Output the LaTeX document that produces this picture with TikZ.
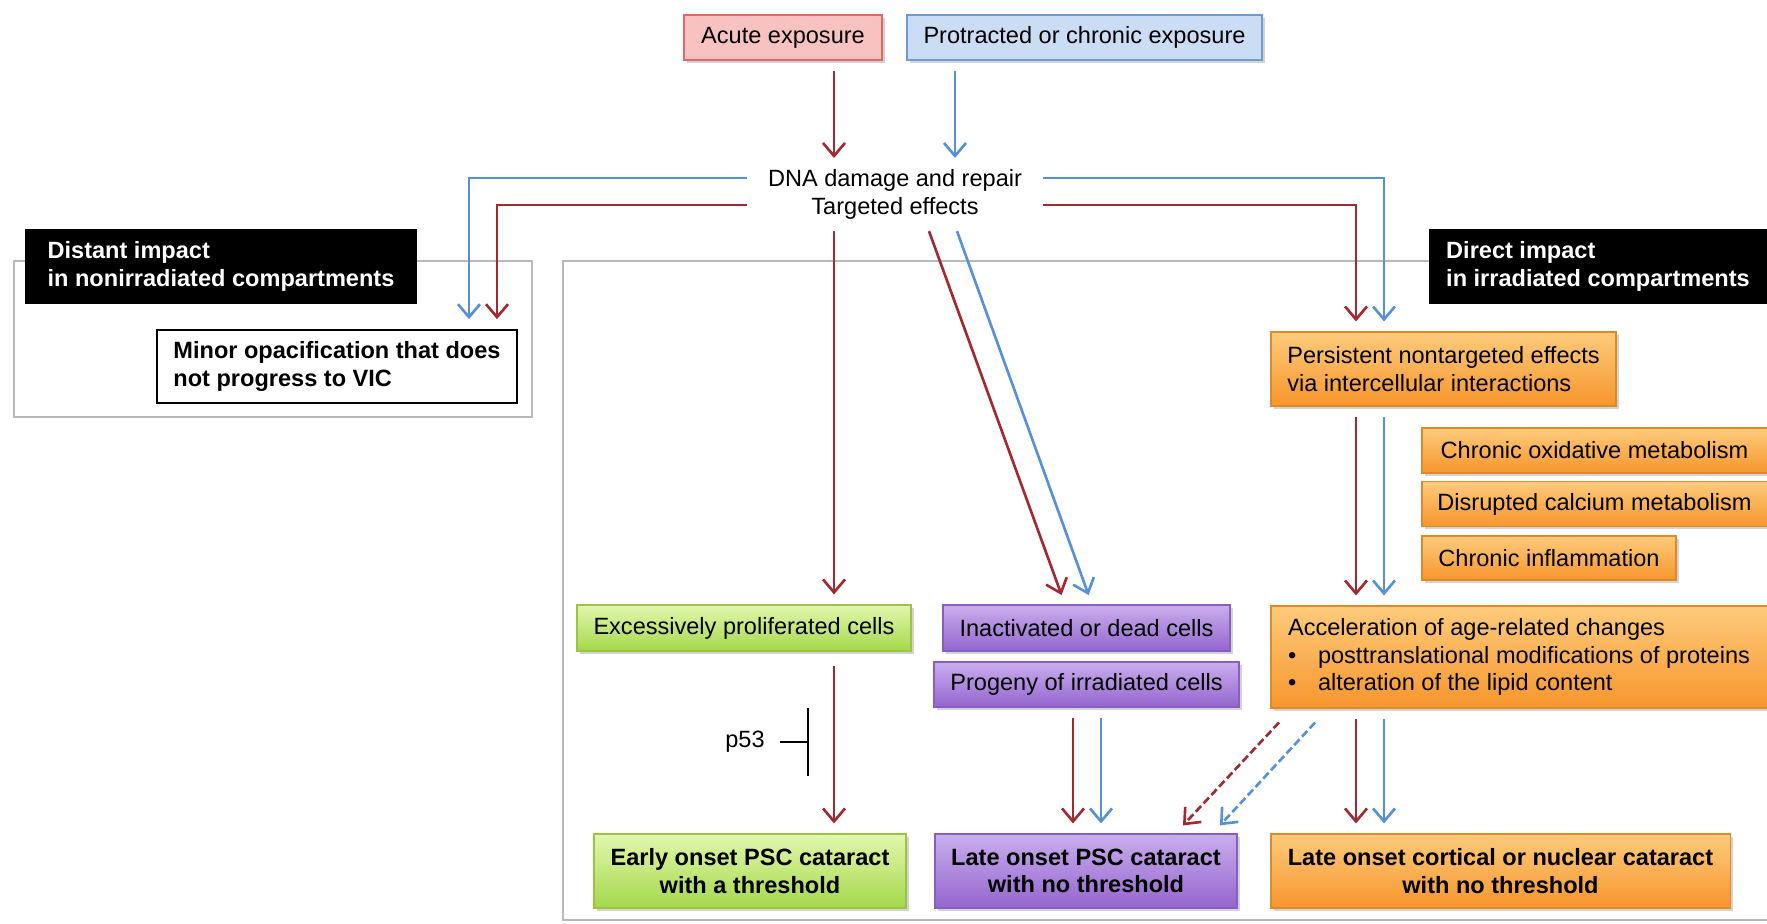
\documentclass[tikz,border=0pt]{standalone}
\usepackage{fontspec}
\setmainfont{Liberation Sans}
\usetikzlibrary{arrows.meta,shadows}

\definecolor{arrRed}{HTML}{A3282F}
\definecolor{arrBlue}{HTML}{5590D8}
\definecolor{pinkFill}{HTML}{F8C2C0}
\definecolor{pinkLine}{HTML}{E06868}
\definecolor{skyFill}{HTML}{CADDF5}
\definecolor{skyLine}{HTML}{6C9CD8}
\definecolor{limeTop}{HTML}{E2F7AE}
\definecolor{limeBot}{HTML}{A4D84A}
\definecolor{limeLine}{HTML}{9CC443}
\definecolor{violTop}{HTML}{C9AEEC}
\definecolor{violBot}{HTML}{9465CF}
\definecolor{violLine}{HTML}{8A5EC0}
\definecolor{ambTop}{HTML}{FDCB7C}
\definecolor{ambBot}{HTML}{F7962C}
\definecolor{ambLine}{HTML}{DE8A2A}

\begin{document}
\begin{tikzpicture}[
    font=\fontsize{13.4}{15.8}\selectfont,
    shade/.style={drop shadow={shadow xshift=0.06cm, shadow yshift=-0.06cm, opacity=0.35}},
    cbox/.style={shade, line width=0.6pt, inner sep=0pt, minimum height=0.9cm, align=center},
    lbox/.style={shade, line width=0.6pt, inner sep=0pt, minimum height=0.9cm, align=left},
    pinkbox/.style={cbox, draw=pinkLine, fill=pinkFill},
    skybox/.style={cbox, draw=skyLine, fill=skyFill},
    limebox/.style={cbox, draw=limeLine, top color=limeTop, bottom color=limeBot},
    violbox/.style={cbox, draw=violLine, top color=violTop, bottom color=violBot},
    ambbox/.style={lbox, draw=ambLine, top color=ambTop, bottom color=ambBot},
    ambcbox/.style={cbox, draw=ambLine, top color=ambTop, bottom color=ambBot},
    tagbox/.style={fill=black, text=white, font=\fontsize{13.4}{15.8}\selectfont\bfseries, inner sep=0pt, minimum height=1.5cm, align=left},
    frame/.style={draw=gray!55, line width=1.3pt},
    redarr/.style={arrRed, line width=1.5pt, -{Straight Barb[length=0.26cm,width=0.44cm]}, shorten <=0.2cm, shorten >=0.2cm},
    bluarr/.style={redarr, arrBlue},
    hook/.style={line width=1.5pt, -{Straight Barb[length=0.26cm,width=0.44cm]}, shorten >=0.2cm},
    dashline/.style={dash pattern=on 4.5pt off 2pt}
]
    \useasboundingbox (0,0) rectangle (35.34,18.48);

    % Frames and labels
    \draw[frame] (0.28,10.14) rectangle (10.64,13.26);
    \draw[frame] (11.26,0.08) rectangle (36,13.26);
    \node[tagbox, minimum width=7.84cm] (distant) at (4.42,13.15) {Distant impact\\in nonirradiated compartments};
    \node[tagbox, minimum width=6.76cm] (direct) at (31.96,13.15) {Direct impact\\in irradiated compartments};
    \node[draw, line width=0.9pt, fill=white, inner sep=0pt, minimum width=7.2cm, minimum height=1.46cm, align=left, font=\fontsize{13.4}{15.8}\selectfont\bfseries] (minor) at (6.74,11.15) {Minor opacification that does\\not progress to VIC};

    % Exposure
    \node[pinkbox, minimum width=3.96cm] (acute) at (15.66,17.73) {Acute exposure};
    \node[skybox, minimum width=7.1cm] (chronic) at (21.69,17.73) {Protracted or chronic exposure};
    \node[inner xsep=0.42cm, inner ysep=0.23cm, align=center] (dna) at (17.9,14.59) {DNA damage and repair\\Targeted effects};

    % Cell level
    \node[limebox, minimum width=6.68cm, minimum height=0.92cm] (prolif) at (14.88,5.92) {Excessively proliferated cells};
    \node[violbox, minimum width=5.74cm, minimum height=0.92cm] (dead) at (21.73,5.92) {Inactivated or dead cells};
    \node[violbox, minimum width=6.1cm] (progeny) at (21.73,4.79) {Progeny of irradiated cells};

    % Nontargeted side
    \node[ambbox, minimum width=6.9cm, minimum height=1.48cm] (persist) at (28.87,11.1) {Persistent nontargeted effects\\via intercellular interactions};
    \node[ambbox, minimum width=6.9cm] (oxid) at (31.89,9.47) {Chronic oxidative metabolism};
    \node[ambbox, minimum width=6.9cm] (calcium) at (31.89,8.4) {Disrupted calcium metabolism};
    \node[ambbox, minimum width=5.08cm, minimum height=0.88cm] (inflam) at (30.98,7.32) {Chronic inflammation};
    \node[ambbox, minimum width=9.92cm, minimum height=2.04cm] (accel) at (30.38,5.34) {Acceleration of age-related changes\\
        \makebox[0.6cm][l]{\textbullet}posttranslational modifications of proteins\\
        \makebox[0.6cm][l]{\textbullet}alteration of the lipid content};

    % Outcomes
    \node[limebox, minimum width=6.24cm, minimum height=1.48cm, font=\fontsize{13.4}{15.8}\selectfont\bfseries] (early) at (15.0,1.06) {Early onset PSC cataract\\with a threshold};
    \node[violbox, minimum width=6.04cm, minimum height=1.48cm, font=\fontsize{13.4}{15.8}\selectfont\bfseries] (lateP) at (21.72,1.06) {Late onset PSC cataract\\with no threshold};
    \node[ambcbox, minimum width=9.18cm, minimum height=1.48cm, font=\fontsize{13.4}{15.8}\selectfont\bfseries] (lateC) at (30.01,1.06) {Late onset cortical or nuclear cataract\\with no threshold};

    % Columns and rows for the connectors
    \coordinate (cR) at (16.68,0);
    \coordinate (cB) at (19.1,0);
    \coordinate (lB) at (9.38,0);
    \coordinate (lR) at (9.94,0);
    \coordinate (rR) at (27.12,0);
    \coordinate (rB) at (27.68,0);
    \coordinate (rowB) at (0,14.92);
    \coordinate (rowR) at (0,14.38);
    \coordinate (dnaIn) at (0,15.12);
    \coordinate (dRs) at (18.58,0);
    \coordinate (dRe) at (21.3,0);
    \coordinate (dBs) at (19.14,0);
    \coordinate (dBe) at (21.84,0);
    \coordinate (pR) at (21.46,0);
    \coordinate (pB) at (22.02,0);
    \coordinate (xRs) at (25.84,0);
    \coordinate (xRe) at (23.51,0);
    \coordinate (xBs) at (26.56,0);
    \coordinate (xBe) at (24.25,0);
    \coordinate (bar) at (16.18,3.64);

    % Exposure to DNA
    \draw[redarr] (acute.south -| cR) -- (dnaIn -| cR);
    \draw[bluarr] (chronic.south -| cB) -- (dnaIn -| cB);

    % DNA to both compartments
    \draw[hook, arrBlue] (dna.west |- rowB) -- (lB |- rowB) -- (lB |- minor.north);
    \draw[hook, arrRed] (dna.west |- rowR) -- (lR |- rowR) -- (lR |- minor.north);
    \draw[hook, arrBlue] (dna.east |- rowB) -- (rB |- rowB) -- (rB |- persist.north);
    \draw[hook, arrRed] (dna.east |- rowR) -- (rR |- rowR) -- (rR |- persist.north);

    % DNA to cells
    \draw[redarr, shorten <=0cm] (dna.south -| cR) -- (prolif.north -| cR);
    \draw[redarr, shorten <=0cm] (dna.south -| dRs) -- (dead.north -| dRe);
    \draw[bluarr, shorten <=0cm] (dna.south -| dBs) -- (dead.north -| dBe);

    % Persistent effects down
    \draw[redarr] (persist.south -| rR) -- (accel.north -| rR);
    \draw[bluarr] (persist.south -| rB) -- (accel.north -| rB);

    % To outcomes
    \draw[redarr, shorten <=0.28cm] (prolif.south -| cR) -- (early.north -| cR);
    \node[inner xsep=0.3cm] (p53) at (14.9,3.64) {p53};
    \draw[line width=1pt, -{Bar[width=1.36cm]}] (p53.east) -- (bar);
    \draw[redarr] (progeny.south -| pR) -- (lateP.north -| pR);
    \draw[bluarr] (progeny.south -| pB) -- (lateP.north -| pB);
    \draw[redarr, dashline, shorten <=0.38cm, shorten >=0.22cm] (accel.south -| xRs) -- (lateP.north -| xRe);
    \draw[bluarr, dashline, shorten <=0.38cm, shorten >=0.22cm] (accel.south -| xBs) -- (lateP.north -| xBe);
    \draw[redarr] (accel.south -| rR) -- (lateC.north -| rR);
    \draw[bluarr] (accel.south -| rB) -- (lateC.north -| rB);
\end{tikzpicture}
\end{document}
